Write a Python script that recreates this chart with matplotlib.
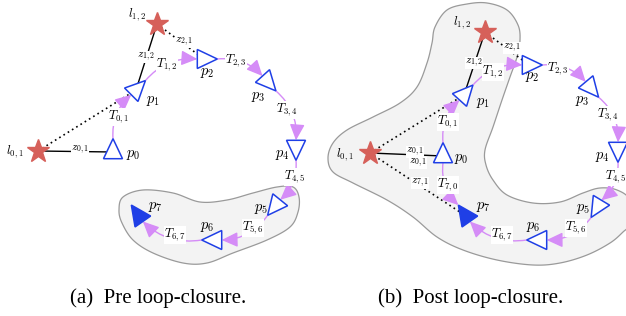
import numpy as np
import matplotlib
matplotlib.use("Agg")
import matplotlib.pyplot as plt
from matplotlib.patches import Polygon, FancyArrowPatch

plt.rcParams['mathtext.fontset'] = 'cm'

## poses p0..p7 : centre (pixels, y down) and heading (deg, ccw)
pa_x = [113, 136, 204, 267, 296, 276, 215, 139]
pa_y = [152, 90, 59, 81, 147, 205, 240, 216]
pa_hd = [90, 45, 0, -48, -90, -129, 180, 125]
pb_x = [443, 464, 529, 590, 618, 598, 540, 466]
pb_y = [156, 95, 65, 87, 149, 206, 240, 216]
pb_hd = [90, 48, 0, -50, -90, -121, 180, 125]

## landmarks l01, l12
la_x = [38, 157]
la_y = [151, 24]
lb_x = [370, 485]
lb_y = [153, 32]
l_names = ['$l_{0,1}$', '$l_{1,2}$']

## label positions
pa_lab = [(133, 155), (153, 100), (207, 73), (258, 96), (282, 154), (261, 208), (207, 227), (155, 207)]
pb_lab = [(461, 158), (483, 102), (532, 77), (582, 100), (602, 157), (583, 208), (533, 226), (483, 207)]
la_lab = [(15, 152), (137, 15)]
lb_lab = [(345, 155), (462, 23)]
T_names = ['$T_{0,1}$', '$T_{1,2}$', '$T_{2,3}$', '$T_{3,4}$', '$T_{4,5}$', '$T_{5,6}$', '$T_{6,7}$']
Ta_lab = [(119, 117), (167, 65), (236, 61), (287, 110), (295, 177), (253, 228), (175, 235)]
Tb_lab = [(448, 122), (493, 72), (558, 69), (608, 115), (616, 177), (576, 228), (502, 235)]

## measurements: (landmark, pose, solid?, label, label pos)
meas_a = [(0, 0, True, '$z_{0,1}$', (80, 150)),
          (1, 1, True, '$z_{1,2}$', (146, 57)),
          (0, 1, False, None, None),
          (1, 2, False, '$z_{2,1}$', (184, 42))]
meas_b = [(0, 0, True, '$z_{0,1}$', (415, 152)),
          (1, 1, True, '$z_{1,2}$', (474, 63)),
          (0, 1, False, None, None),
          (1, 2, False, '$z_{2,1}$', (512, 48)),
          (0, 7, False, '$z_{7,1}$', (420, 183))]

## gray blobs (outline points)
blob_a = [(123, 197), (143, 190), (173, 193), (200, 202), (227, 200), (253, 193), (277, 187),
          (293, 187), (299, 197), (298, 212), (290, 227), (267, 240), (233, 253), (207, 263),
          (183, 263), (153, 253), (133, 240), (122, 223), (119, 210)]
blob_b = [(467, 4), (487, 3), (507, 10), (518, 25), (520, 40), (517, 57), (510, 77), (502, 100),
          (493, 127), (485, 150), (486, 165), (493, 180), (507, 195), (533, 203), (560, 202),
          (583, 193), (600, 188), (617, 190), (630, 200), (632, 222), (623, 232), (610, 243),
          (587, 255), (560, 263), (533, 265), (497, 260), (463, 250), (437, 237), (413, 217),
          (387, 200), (353, 183), (333, 172), (328, 158), (333, 143), (347, 130), (373, 117),
          (400, 103), (417, 87), (427, 63), (432, 43), (435, 27), (447, 10)]

BLUE = '#1f3fe6'
RED = '#d6605a'
PURP = '#d58cf7'


def smooth(pts, n=16):
    P = np.array(pts, float)
    m = len(P)
    t = np.linspace(0, 1, n, endpoint=False)[:, None]
    out = []
    for i in range(m):
        a, b, c, d = P[i - 1], P[i], P[(i + 1) % m], P[(i + 2) % m]
        out.append(0.5 * (2 * b + (c - a) * t + (2 * a - 5 * b + 4 * c - d) * t ** 2
                          + (-a + 3 * b - 3 * c + d) * t ** 3))
    return np.vstack(out)


def hdir(h):
    r = np.radians(h)
    return np.array([np.cos(r), -np.sin(r)])


def tri(ax, x, y, h, filled=False):
    c = np.array([x, y], float)
    d = hdir(h)
    nrm = np.array([-d[1], d[0]])
    pts = [c + 13.3 * d, c - 6.7 * d + 9.5 * nrm, c - 6.7 * d - 9.5 * nrm]
    ax.add_patch(Polygon(pts, closed=True, fc=BLUE if filled else 'white',
                         ec=BLUE, lw=1.1, zorder=5))


def arrow(ax, a, b, rad):
    ax.add_patch(FancyArrowPatch(a, b, connectionstyle='arc3,rad=%g' % rad,
                                 arrowstyle='-|>,head_length=0.75,head_width=0.35',
                                 mutation_scale=13, color=PURP, lw=1.0,
                                 shrinkA=0, shrinkB=0, zorder=3))


def tlabel(ax, pos, s, fs):
    ax.text(pos[0], pos[1], s, fontsize=fs, ha='center', va='center', zorder=4,
            bbox=dict(fc='white', ec='none', pad=0.2))


def panel(ax, px, py, ph, lx, ly, plab, llab, tlab, meas, blob, loop):
    b = smooth(blob)
    ax.add_patch(Polygon(b, closed=True, fc='#f3f3f3', ec='#9a9a9a', lw=0.9, zorder=0))

    for li, pi, solid, s, pos in meas:
        ls = '-' if solid else (0, (1, 2))
        ax.plot([lx[li], px[pi]], [ly[li], py[pi]], color='black', lw=1.0 if solid else 1.2,
                ls=ls, zorder=1)
        if s:
            tlabel(ax, pos, s, 8)

    for i in range(7):
        a = np.array([px[i], py[i]]) + 13.3 * hdir(ph[i])
        e = np.array([px[i + 1], py[i + 1]]) - 6.7 * hdir(ph[i + 1])
        arrow(ax, a, e, -0.25)
        tlabel(ax, tlab[i], T_names[i], 9)
    if loop:
        a = np.array([px[0], py[0]]) - 6.7 * hdir(ph[0])
        e = np.array([px[7], py[7]]) + 13.3 * hdir(ph[7])
        arrow(ax, a, e, 0.25)
        tlabel(ax, (448, 185), '$T_{7,0}$', 9)
        tlabel(ax, (418, 163), '$z_{0,1}$', 8)

    for i in range(8):
        tri(ax, px[i], py[i], ph[i], filled=(i == 7))
        ax.text(plab[i][0], plab[i][1], '$p_%d$' % i, fontsize=10.5, ha='center', va='center', zorder=6)

    ax.plot(lx, ly, '*', ms=17, color=RED, mec=RED, zorder=6)
    for i in range(2):
        ax.text(llab[i][0], llab[i][1], l_names[i], fontsize=9, ha='center', va='center', zorder=6)


fig = plt.figure(figsize=(6.26, 3.16), dpi=100)
ax = fig.add_axes([0, 0, 1, 1])
ax.set_xlim(0, 626)
ax.set_ylim(316, 0)
ax.axis('off')

panel(ax, pa_x, pa_y, pa_hd, la_x, la_y, pa_lab, la_lab, Ta_lab, meas_a, blob_a, False)
panel(ax, pb_x, pb_y, pb_hd, lb_x, lb_y, pb_lab, lb_lab, Tb_lab, meas_b, blob_b, True)

ax.text(158, 298, '(a)  Pre loop-closure.', family='Liberation Serif', fontsize=15,
        ha='center', va='center')
ax.text(471, 298, '(b)  Post loop-closure.', family='Liberation Serif', fontsize=15,
        ha='center', va='center')

fig.savefig('out.png', dpi=100)
